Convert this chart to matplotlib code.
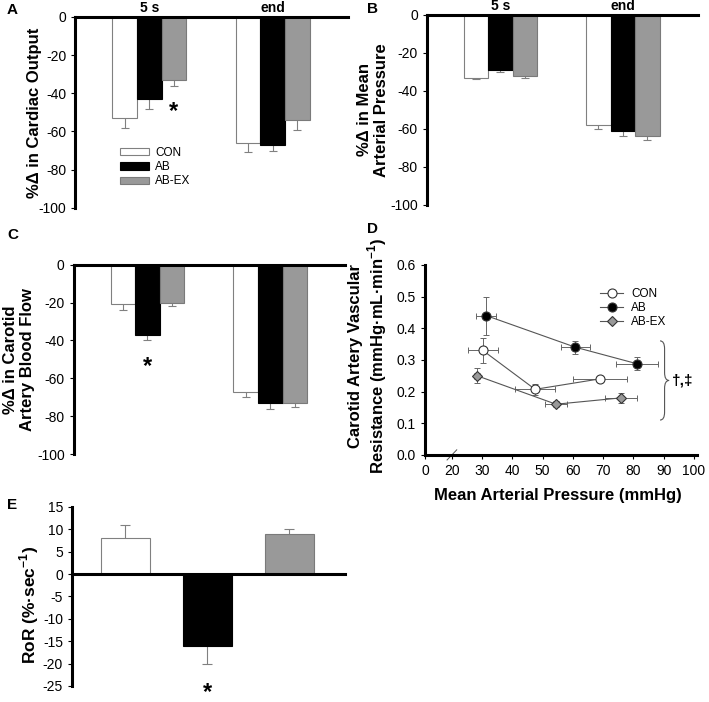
import matplotlib
matplotlib.use('Agg')
import matplotlib.pyplot as plt
import matplotlib.transforms as mtransforms
import numpy as np
from matplotlib.path import Path
from matplotlib.patches import PathPatch

plt.rcParams['font.family'] = ['Liberation Sans', 'DejaVu Sans']
plt.rcParams['axes.unicode_minus'] = False
plt.rcParams['mathtext.fontset'] = 'custom'
plt.rcParams['mathtext.rm'] = 'Liberation Sans'
plt.rcParams['mathtext.bf'] = 'Liberation Sans:bold'

groups = ['CON', 'AB', 'AB-EX']
times = ['5 s', 'end']

# rows: CON, AB, AB-EX ; columns: 5 s, end
co_mean = [[-53, -66], [-43, -67], [-33, -54]]
co_err = [[5, 5], [5, 3], [3, 5]]
map_mean = [[-33, -58], [-29, -61], [-32, -64]]
map_err = [[1, 2], [1, 3], [1, 2]]
cbf_mean = [[-21, -67], [-37, -73], [-20, -73]]
cbf_err = [[3, 3], [3, 3], [2, 2]]

# panel D, carotid vascular resistance vs MAP
cvr_con_x = [30.2, 47.5, 68.9]
cvr_con_xerr = [5.0, 6.6, 9.0]
cvr_con_y = [0.33, 0.207, 0.24]
cvr_con_yerr = [0.04, 0.018, 0.005]
cvr_ab_x = [31.3, 60.8, 81.1]
cvr_ab_xerr = [3.2, 4.7, 7.0]
cvr_ab_y = [0.44, 0.34, 0.288]
cvr_ab_yerr = [0.06, 0.02, 0.02]
cvr_abex_x = [28.3, 54.4, 75.9]
cvr_abex_xerr = [1.0, 3.7, 5.4]
cvr_abex_y = [0.25, 0.16, 0.18]
cvr_abex_yerr = [0.024, 0.01, 0.015]

# panel E, rate of recovery
ror_mean = [8, -16, 9]
ror_err = [3, 4, 1]

fill = ['white', 'black', '#999999']
edge = ['#808080', 'black', '#7a7a7a']
errc = '#808080'
SPW = 2.2

fig = plt.figure(figsize=(7.09, 7.02), dpi=100)


def bar_panel(rect, means, errs, ylabel, label_x, show_times=True):
    ax = fig.add_axes(rect)
    pos = np.arange(len(times))
    w = 0.2
    for i, g in enumerate(groups):
        x = pos + (i - 1) * w
        ax.errorbar(x, means[i], yerr=errs[i], fmt='none', ecolor=errc,
                    elinewidth=0.8, capsize=3, capthick=0.8, zorder=1)
        ax.bar(x, means[i], w, color=fill[i], edgecolor=edge[i], linewidth=0.8,
               zorder=2, label=g)
    ax.set_xlim(-0.6, 1.61)
    ax.set_ylim(-100, 0)
    ax.set_yticks(np.arange(-100, 1, 20))
    ax.set_xticks([])
    for s in ['bottom', 'right']:
        ax.spines[s].set_visible(False)
    ax.spines['left'].set_linewidth(SPW)
    ax.spines['top'].set_linewidth(SPW)
    ax.tick_params(axis='y', length=3, width=0.8, labelsize=10)
    ax.set_ylabel(ylabel, fontsize=12, fontweight='bold', linespacing=1.15)
    ax.yaxis.set_label_coords(label_x, 0.5)
    if show_times:
        tr = mtransforms.blended_transform_factory(ax.transData, ax.transAxes)
        for j, t in enumerate(times):
            ax.text(pos[j], 1.045, t, transform=tr, ha='center', va='center',
                    fontsize=10, fontweight='bold')
    return ax


# A
axA = bar_panel([0.106, 0.704, 0.385, 0.272], co_mean, co_err,
                '%\u0394 in Cardiac Output', -0.122)
axA.legend(loc='upper left', bbox_to_anchor=(0.165, 0.32), frameon=False,
           fontsize=8.5, handlelength=2.4, handleheight=0.6, handletextpad=0.55,
           labelspacing=0.2, borderpad=0, borderaxespad=0)
axA.text(0.2, -49.5, '*', ha='center', va='center', fontsize=17, fontweight='bold')

# B
axB = bar_panel([0.602, 0.708, 0.382, 0.271], map_mean, map_err,
                '%\u0394 in Mean\nArterial Pressure', -0.14)

# C
axC = bar_panel([0.104, 0.353, 0.383, 0.27], cbf_mean, cbf_err,
                '%\u0394 in Carotid\nArtery Blood Flow', -0.144, show_times=False)
axC.text(0.0, -54, '*', ha='center', va='center', fontsize=17, fontweight='bold')

# D
axD = fig.add_axes([0.5994, 0.352, 0.3836, 0.2707])
x_origin = 11.1
series = [
    ('CON', cvr_con_x, cvr_con_xerr, cvr_con_y, cvr_con_yerr, 'o', 'white'),
    ('AB', cvr_ab_x, cvr_ab_xerr, cvr_ab_y, cvr_ab_yerr, 'o', 'black'),
    ('AB-EX', cvr_abex_x, cvr_abex_xerr, cvr_abex_y, cvr_abex_yerr, 'D', '#999999'),
]
for name, x, xe, y, ye, mk, fc in series:
    axD.errorbar(x, y, xerr=xe, yerr=ye, fmt='none', ecolor='#666666',
                 elinewidth=0.7, capsize=2.5, capthick=0.7, zorder=1)
    axD.plot(x, y, '-', color='#555555', lw=0.8, marker=mk, mfc=fc, mec='#333333',
             mew=0.8, ms=6.5 if mk == 'o' else 5.5, label=name, zorder=3)
axD.set_xlim(x_origin, 101)
axD.set_ylim(0, 0.6)
axD.set_xticks([x_origin] + list(range(20, 101, 10)))
axD.set_xticklabels(['0'] + [str(v) for v in range(20, 101, 10)])
axD.set_yticks(np.arange(0, 0.61, 0.1))
axD.set_yticklabels(['%.1f' % v for v in np.arange(0, 0.61, 0.1)])
for s in ['top', 'right']:
    axD.spines[s].set_visible(False)
axD.spines['left'].set_linewidth(SPW)
axD.spines['bottom'].set_linewidth(SPW)
axD.tick_params(length=3, width=0.8, labelsize=10)
axD.set_xlabel('Mean Arterial Pressure (mmHg)', fontsize=12, fontweight='bold')
axD.xaxis.set_label_coords(0.49, -0.175)
axD.set_ylabel('Carotid Artery Vascular\nResistance (mmHg\u00b7mL\u00b7min$^{\\mathbf{-1}}$)',
               fontsize=12, fontweight='bold', linespacing=1.15)
axD.yaxis.set_label_coords(-0.132, 0.52)
axD.legend(loc='upper left', bbox_to_anchor=(0.645, 0.88), frameon=False,
           fontsize=8.5, handlelength=1.9, handletextpad=0.7, labelspacing=0.2,
           borderpad=0, borderaxespad=0)
# axis break mark
axD.plot([18.4, 21.6], [-0.016, 0.016], color='#555555', lw=0.7, clip_on=False)
# brace
x0, x1 = 88.8, 91.8
xm = (x0 + x1) / 2
yt, yb = 0.36, 0.11
ymid = (yt + yb) / 2
d = 0.025
verts = [(x0, yt), (xm, yt), (xm, yt - d), (xm, ymid + d), (xm, ymid), (x1, ymid),
         (xm, ymid), (xm, ymid - d), (xm, yb + d), (xm, yb), (x0, yb)]
codes = [Path.MOVETO, Path.CURVE3, Path.CURVE3, Path.LINETO, Path.CURVE3, Path.CURVE3,
         Path.CURVE3, Path.CURVE3, Path.LINETO, Path.CURVE3, Path.CURVE3]
axD.add_patch(PathPatch(Path(verts, codes), fc='none', ec='#555555', lw=0.8,
                        clip_on=False))
axD.text(92.6, ymid, '\u2020,\u2021', ha='left', va='center', fontsize=11,
         fontweight='bold')

# E
axE = fig.add_axes([0.1016, 0.0228, 0.385, 0.255])
pos = np.arange(len(groups))
axE.errorbar(pos, ror_mean, yerr=ror_err, fmt='none', ecolor=errc, elinewidth=0.8,
             capsize=3.5, capthick=0.8, zorder=1)
axE.bar(pos, ror_mean, 0.6, color=fill, edgecolor=edge, linewidth=0.8, zorder=2)
axE.set_xlim(-0.65, 2.68)
axE.set_ylim(-25, 15)
axE.set_yticks(np.arange(-25, 16, 5))
axE.set_xticks([])
for s in ['top', 'right']:
    axE.spines[s].set_visible(False)
axE.spines['bottom'].set_position(('data', 0))
axE.spines['bottom'].set_linewidth(SPW)
axE.spines['left'].set_linewidth(SPW)
axE.tick_params(axis='y', length=3, width=0.8, labelsize=10)
axE.set_ylabel('RoR (%\u00b7sec$^{\\mathbf{-1}}$)', fontsize=12.5, fontweight='bold')
axE.yaxis.set_label_coords(-0.112, 0.45)
axE.text(1, -26.4, '*', ha='center', va='center', fontsize=17, fontweight='bold',
         clip_on=False)

# panel letters
for letter, px, py in [('A', 7, 10), ('B', 367, 9), ('C', 7, 235), ('D', 367, 229),
                       ('E', 7, 505)]:
    fig.text(px / 709, 1 - py / 702, letter, fontsize=11, fontweight='bold',
             ha='left', va='center')

plt.savefig('out.png', dpi=100)
